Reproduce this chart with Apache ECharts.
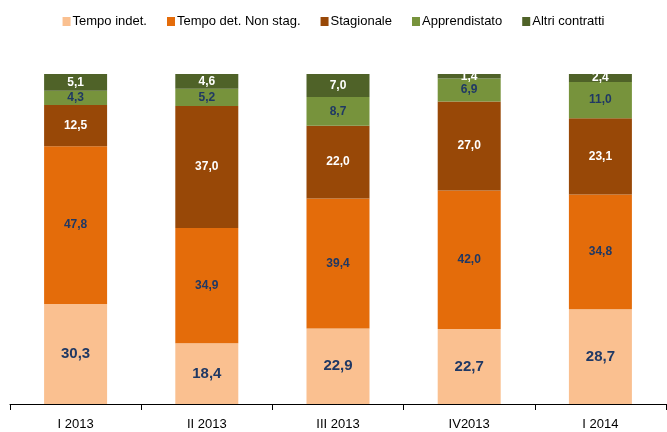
<!DOCTYPE html>
<html>
<head>
<meta charset="utf-8">
<script src="https://cdn.jsdelivr.net/npm/echarts@6/dist/echarts.min.js"></script>
<style>
  html, body { margin: 0; padding: 0; background: #fff; }
  #chart { width: 667px; height: 432px; }
</style>
</head>
<body>
<div id="chart"></div>
<script>
// categorie (trimestri)
const categories = ['I 2013', 'II 2013', 'III 2013', 'IV2013', 'I 2014'];

// quote percentuali per tipologia di contratto
const tempoIndet = [30.3, 18.4, 22.9, 22.7, 28.7];
const tempoDetNonStag = [47.8, 34.9, 39.4, 42.0, 34.8];
const stagionale = [12.5, 37.0, 22.0, 27.0, 23.1];
const apprendistato = [4.3, 5.2, 8.7, 6.9, 11.0];
const altriContratti = [5.1, 4.6, 7.0, 1.4, 2.4];

const FONT = '"Liberation Sans", Arial, sans-serif';
const BLUE = '#1F3864';

const fmt = (p) => p.value.toFixed(1).replace('.', ',');

function makeSeries(name, data, color, labelColor, fontSize) {
  return {
    name: name,
    type: 'bar',
    stack: 'tot',
    data: data,
    barWidth: 63,
    itemStyle: { color: color },
    label: {
      show: true,
      position: 'inside',
      formatter: fmt,
      color: labelColor,
      fontFamily: FONT,
      fontWeight: 'bold',
      fontSize: fontSize
    },
    emphasis: { disabled: true }
  };
}

const chart = echarts.init(document.getElementById('chart'));
chart.setOption({
  animation: false,
  legend: {
    top: 10,
    left: 'center',
    itemWidth: 8,
    itemHeight: 9,
    itemGap: 20,
    icon: 'rect',
    textStyle: { fontFamily: FONT, fontSize: 13, color: '#000', padding: [0, 0, 0, -3] },
    data: ['Tempo indet.', 'Tempo det. Non stag.', 'Stagionale', 'Apprendistato', 'Altri contratti']
  },
  grid: { left: 10, right: 1, top: 74, bottom: 28 },
  xAxis: {
    type: 'category',
    data: categories,
    axisLine: { lineStyle: { color: '#000', width: 1 } },
    axisTick: { show: true, length: 6, lineStyle: { color: '#000' } },
    axisLabel: { fontFamily: FONT, fontSize: 13, color: '#000', margin: 14 }
  },
  yAxis: {
    type: 'value',
    min: 0,
    max: 100,
    show: false,
    splitLine: { show: false }
  },
  series: [
    makeSeries('Tempo indet.', tempoIndet, '#FAC090', BLUE, 15),
    makeSeries('Tempo det. Non stag.', tempoDetNonStag, '#E46C0A', BLUE, 12),
    makeSeries('Stagionale', stagionale, '#984807', '#fff', 12),
    makeSeries('Apprendistato', apprendistato, '#77933C', BLUE, 12),
    makeSeries('Altri contratti', altriContratti, '#4F6228', '#fff', 12)
  ]
});
</script>
</body>
</html>
